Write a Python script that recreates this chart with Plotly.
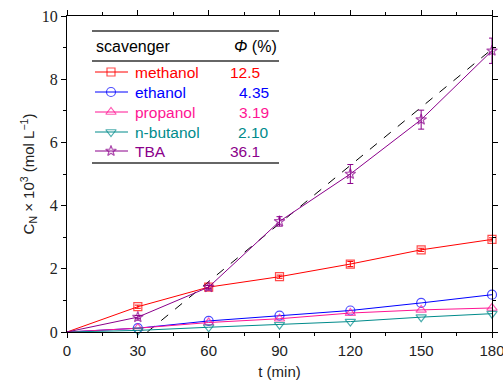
import plotly.graph_objects as go

t = [0, 30, 60, 90, 120, 150, 180]
methanol = [0.0, 0.80, 1.42, 1.75, 2.15, 2.60, 2.93]
ethanol = [0.0, 0.12, 0.35, 0.52, 0.68, 0.92, 1.18]
propanol = [0.0, 0.12, 0.30, 0.42, 0.60, 0.70, 0.76]
butanol = [0.0, 0.05, 0.15, 0.23, 0.33, 0.47, 0.58]
tba = [0.0, 0.47, 1.42, 3.50, 5.00, 6.72, 8.90]
tba_err = [0.0, 0.05, 0.06, 0.15, 0.30, 0.30, 0.40]
meth_err = [0.0, 0.05, 0.05, 0.05, 0.08, 0.05, 0.05]
fit_t = [34, 180]
fit_y = [0.0, 8.95]

names = ["methanol", "ethanol", "propanol", "n-butanol", "TBA"]
phi = ["12.5", "4.35", "3.19", "2.10", "36.1"]
colors = ["#FF0000", "#0000FF", "#FF1493", "#008B8B", "#8B008B"]
symbols = ["square-open", "circle-open", "triangle-up-open", "triangle-down-open", "star-open"]
msizes = [8, 9, 9, 9, 8]
series = [methanol, ethanol, propanol, butanol, tba]
errs = [meth_err, None, None, None, tba_err]

# plot area in pixels (layout)
L, R, T, B = 67, 492, 16, 332
W, H = 503, 383

fig = go.Figure()

fig.add_trace(go.Scatter(x=fit_t, y=fit_y, mode="lines",
                         line=dict(color="black", width=1, dash="dash"),
                         showlegend=False, hoverinfo="skip"))

for name, ys, col, sym, ms, err in zip(names, series, colors, symbols, msizes, errs):
    fig.add_trace(go.Scatter(
        x=t, y=ys, mode="lines+markers", name=name, showlegend=False,
        line=dict(color=col, width=1),
        marker=dict(symbol=sym, size=[0] + [ms] * (len(t) - 1), color=col,
                    line=dict(width=1.2, color=col)),
        error_y=(dict(type="data", array=err, color=col, thickness=1, width=3) if err else None),
        cliponaxis=False,
    ))

# legend key samples on a pixel-space overlay axis
leg_y = [72, 92, 112, 132, 151]
for name, col, sym, ms, yy in zip(names, colors, symbols, msizes, leg_y):
    fig.add_trace(go.Scatter(
        x=[95, 111, 128], y=[yy, yy, yy], xaxis="x2", yaxis="y2",
        mode="lines+markers", showlegend=False, hoverinfo="skip",
        line=dict(color=col, width=1),
        marker=dict(symbol=sym, size=[0, ms, 0], color=col, line=dict(width=1.2, color=col)),
        cliponaxis=False,
    ))
    fig.add_annotation(xref="x2", yref="y2", x=133, y=yy, text=name, showarrow=False,
                       xanchor="left", yanchor="middle",
                       font=dict(family="Liberation Sans", size=15.5, color=col))

val_right = [262, 271, 271, 271, 262]
for v, col, xr, yy in zip(phi, colors, val_right, leg_y):
    fig.add_annotation(xref="x2", yref="y2", x=xr, y=yy, text=v, showarrow=False,
                       xanchor="right", yanchor="middle",
                       font=dict(family="Liberation Sans", size=15.5, color=col))

for ypix in [31, 61, 163]:
    fig.add_shape(type="line", xref="x2", yref="y2", x0=92, x1=279, y0=ypix, y1=ypix,
                  line=dict(color="#333", width=1.5))

fig.add_annotation(xref="x2", yref="y2", x=94, y=46, text="scavenger", showarrow=False,
                   xanchor="left", yanchor="middle",
                   font=dict(family="Liberation Sans", size=16, color="black"))
fig.add_annotation(xref="x2", yref="y2", x=279, y=46, text="<i>Φ</i> (%)", showarrow=False,
                   xanchor="right", yanchor="middle",
                   font=dict(family="Liberation Sans", size=16, color="black"))

axis_common = dict(showline=True, linecolor="black", linewidth=1, mirror="ticks",
                   ticks="outside", ticklen=5, tickcolor="black", showgrid=False,
                   zeroline=False, automargin=False, ticklabeloverflow="allow")

fig.update_layout(
    xaxis=dict(range=[0, 180], dtick=30, tick0=0,
               minor=dict(ticks="outside", ticklen=3, dtick=15, tickcolor="black"),
               tickfont=dict(family="Liberation Sans", size=15, color="#222"),
               title=dict(text="t (min)", font=dict(family="Liberation Sans", size=15, color="#222"),
                          standoff=8),
               **axis_common),
    yaxis=dict(range=[0, 10], dtick=2, tick0=0,
               minor=dict(ticks="outside", ticklen=3, dtick=1, tickcolor="black"),
               tickfont=dict(family="Liberation Serif", size=16, color="#222"),
               title=dict(text="C<sub>N</sub> × 10<sup>3</sup> (mol L<sup>−1</sup>)",
                          font=dict(family="Liberation Sans", size=15, color="#222"), standoff=3),
               **axis_common),
    xaxis2=dict(overlaying="x", range=[L, R], visible=False, automargin=False),
    yaxis2=dict(overlaying="y", range=[B, T], visible=False, automargin=False),
    width=W, height=H,
    margin=dict(l=L, r=W - R, t=T, b=H - B, autoexpand=False),
    plot_bgcolor="white", paper_bgcolor="white",
    showlegend=False,
)

fig.write_html("out.html", config={"displayModeBar": False},
               post_script="document.body.style.margin='0';document.body.style.overflow='hidden';")
